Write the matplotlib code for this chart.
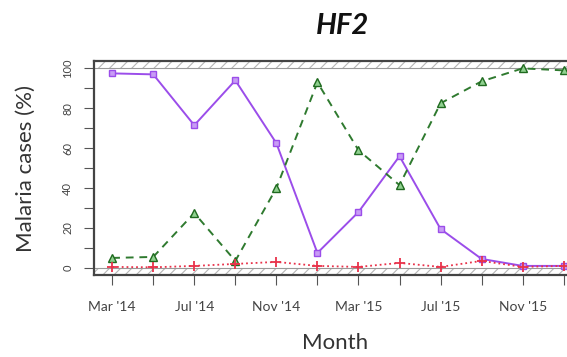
import numpy as np
import matplotlib.pyplot as plt

# bimonthly sampling, Mar 2014 - Jan 2016
months = ["Mar '14", "May '14", "Jul '14", "Sep '14", "Nov '14", "Jan '15",
          "Mar '15", "May '15", "Jul '15", "Sep '15", "Nov '15", "Jan '16"]
pf = [97.5, 97, 71.5, 94, 62.5, 7.5, 28, 56, 19.5, 4.5, 1, 1]
pv = [5, 5.5, 27.5, 3.5, 40, 93, 59, 41.5, 82.5, 93.5, 100, 99]
mixed = [0.5, 0.3, 1, 2, 3, 1, 0.5, 2.5, 0.5, 3.5, 0.5, 1]

plt.rcParams['font.family'] = ['Lato', 'DejaVu Sans']
plt.rcParams['hatch.linewidth'] = 0.8

fig = plt.figure(figsize=(5.67, 3.57), dpi=100)
ax = fig.add_axes([0.166, 0.23, 0.86, 0.598])

x = np.arange(len(months))
ax.set_xlim(-0.44, len(months) - 1 + 0.44)
ax.set_ylim(-3.5, 103.5)

# shaded out-of-range bands
ax.fill_between([-1, 13], 100, 104, facecolor='white', edgecolor='#b5b5b5',
                hatch='///', linewidth=0)
ax.fill_between([-1, 13], -4, 0, facecolor='white', edgecolor='#b5b5b5',
                hatch='///', linewidth=0)
ax.axhline(100, color='#999999', lw=0.8)
ax.axhline(0, color='#999999', lw=0.8)

ax.plot(x, pf, '-', color='#9b4dea', lw=1.4, marker='s', ms=4.5,
        mfc='#c89cf5', mec='#9b4dea', mew=1)
ax.plot(x, pv, '--', color='#2f7a2f', lw=1.4, marker='^', ms=6,
        mfc='#8fd08f', mec='#1f6a1f', mew=1, dashes=(4, 3))
ax.plot(x, mixed, ':', color='#e8324a', lw=1.3, marker='+', ms=7, mew=1.3)

for s in ax.spines.values():
    s.set_color('#444444')
    s.set_linewidth(1.6)

ax.set_xticks(x)
ax.set_xticklabels([m if i % 2 == 0 else '' for i, m in enumerate(months)])
ax.set_yticks(np.arange(0, 101, 10))
ax.set_yticklabels([str(v) if v % 20 == 0 else '' for v in range(0, 101, 10)],
                   rotation=90, va='center')
ax.tick_params(axis='both', colors='#555555', labelcolor='#444444',
               length=7, width=0.8)
ax.tick_params(axis='x', labelsize=10, pad=12)
ax.tick_params(axis='y', labelsize=8, pad=8)

ax.set_xlabel('Month', fontsize=16, color='#333333', va='center')
ax.xaxis.set_label_coords(0.495, -0.318)
ax.set_ylabel('Malaria cases (%)', fontsize=16, color='#333333', va='center')
ax.yaxis.set_label_coords(-0.139, 0.5)
fig.text(0.604, 0.928, 'HF2', fontsize=21, fontweight='bold', style='italic',
         ha='center', va='center', color='#111111')

fig.savefig('out.png', dpi=100, facecolor='white')
